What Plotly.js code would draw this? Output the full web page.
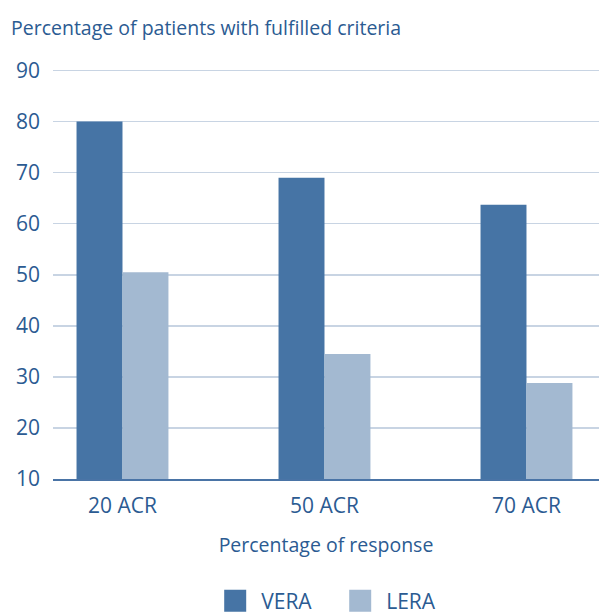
<!DOCTYPE html>
<html>
<head>
<meta charset="utf-8">
<script src="https://cdn.plot.ly/plotly-3.0.1.min.js"></script>
<style>
  html, body { margin: 0; padding: 0; background: #fff; }
  #chart { width: 599px; height: 615px; }
</style>
</head>
<body>
<div id="chart"></div>
<script>
// Data
const categories = ['20 ACR', '50 ACR', '70 ACR'];
const veraValues = [80, 69, 63.7];
const leraValues = [50.5, 34.5, 28.8];
const yTicks = [10, 20, 30, 40, 50, 60, 70, 80, 90];

const textColor = '#2b5b92';
const font = '"Open Sans", Lato, sans-serif';

const traces = [
  {
    x: categories,
    y: veraValues,
    name: 'VERA',
    type: 'bar',
    marker: { color: '#4674a5' },
    hoverinfo: 'none'
  },
  {
    x: categories,
    y: leraValues,
    name: 'LERA',
    type: 'bar',
    marker: { color: '#a3b9d1' },
    hoverinfo: 'none'
  }
];

const layout = {
  width: 599,
  height: 615,
  margin: { l: 53, r: 0, t: 68, b: 136 },
  paper_bgcolor: '#fff',
  plot_bgcolor: '#fff',
  font: { family: font, color: textColor, size: 19 },
  title: {
    text: 'Percentage of patients with fulfilled criteria',
    font: { size: 19.5, color: textColor },
    x: 11 / 599,
    xanchor: 'left',
    xref: 'container',
    y: 1 - 28 / 615,
    yanchor: 'middle',
    yref: 'container'
  },
  barmode: 'group',
  bargap: 0.545,
  bargroupgap: 0,
  xaxis: {
    range: [-0.344, 2.359],
    showgrid: false,
    showline: true,
    linecolor: '#4a74a6',
    linewidth: 1.5,
    ticks: '',
    tickfont: { size: 21 },
    ticklabelstandoff: 7,
    title: {
      text: 'Percentage of response',
      font: { size: 19.5 },
      standoff: 20
    },
    automargin: false,
    fixedrange: true
  },
  yaxis: {
    range: [10, 90.5],
    tickvals: yTicks,
    ticktext: yTicks.map(String),
    showgrid: true,
    gridcolor: '#c8d4e3',
    gridwidth: 1.5,
    zeroline: false,
    showline: false,
    ticks: '',
    tickfont: { size: 21 },
    ticklabelstandoff: 12,
    automargin: false,
    fixedrange: true
  },
  showlegend: true,
  legend: {
    orientation: 'h',
    xref: 'paper',
    x: 0.537,
    xanchor: 'center',
    yref: 'container',
    y: 1 - 601 / 615,
    yanchor: 'middle',
    font: { size: 21 },
    entrywidth: 80,
    entrywidthmode: 'pixels',
    traceorder: 'normal'
  }
};

const config = { displayModeBar: false, staticPlot: true };

Plotly.newPlot('chart', traces, layout, config).then(function(gd) {
  // enlarge legend swatches to match the bigger squares in the reference
  gd.querySelectorAll('.legendpoints path').forEach(function(p) {
    p.setAttribute('transform', 'translate(14,0) scale(1.833)');
  });
});
</script>
</body>
</html>
